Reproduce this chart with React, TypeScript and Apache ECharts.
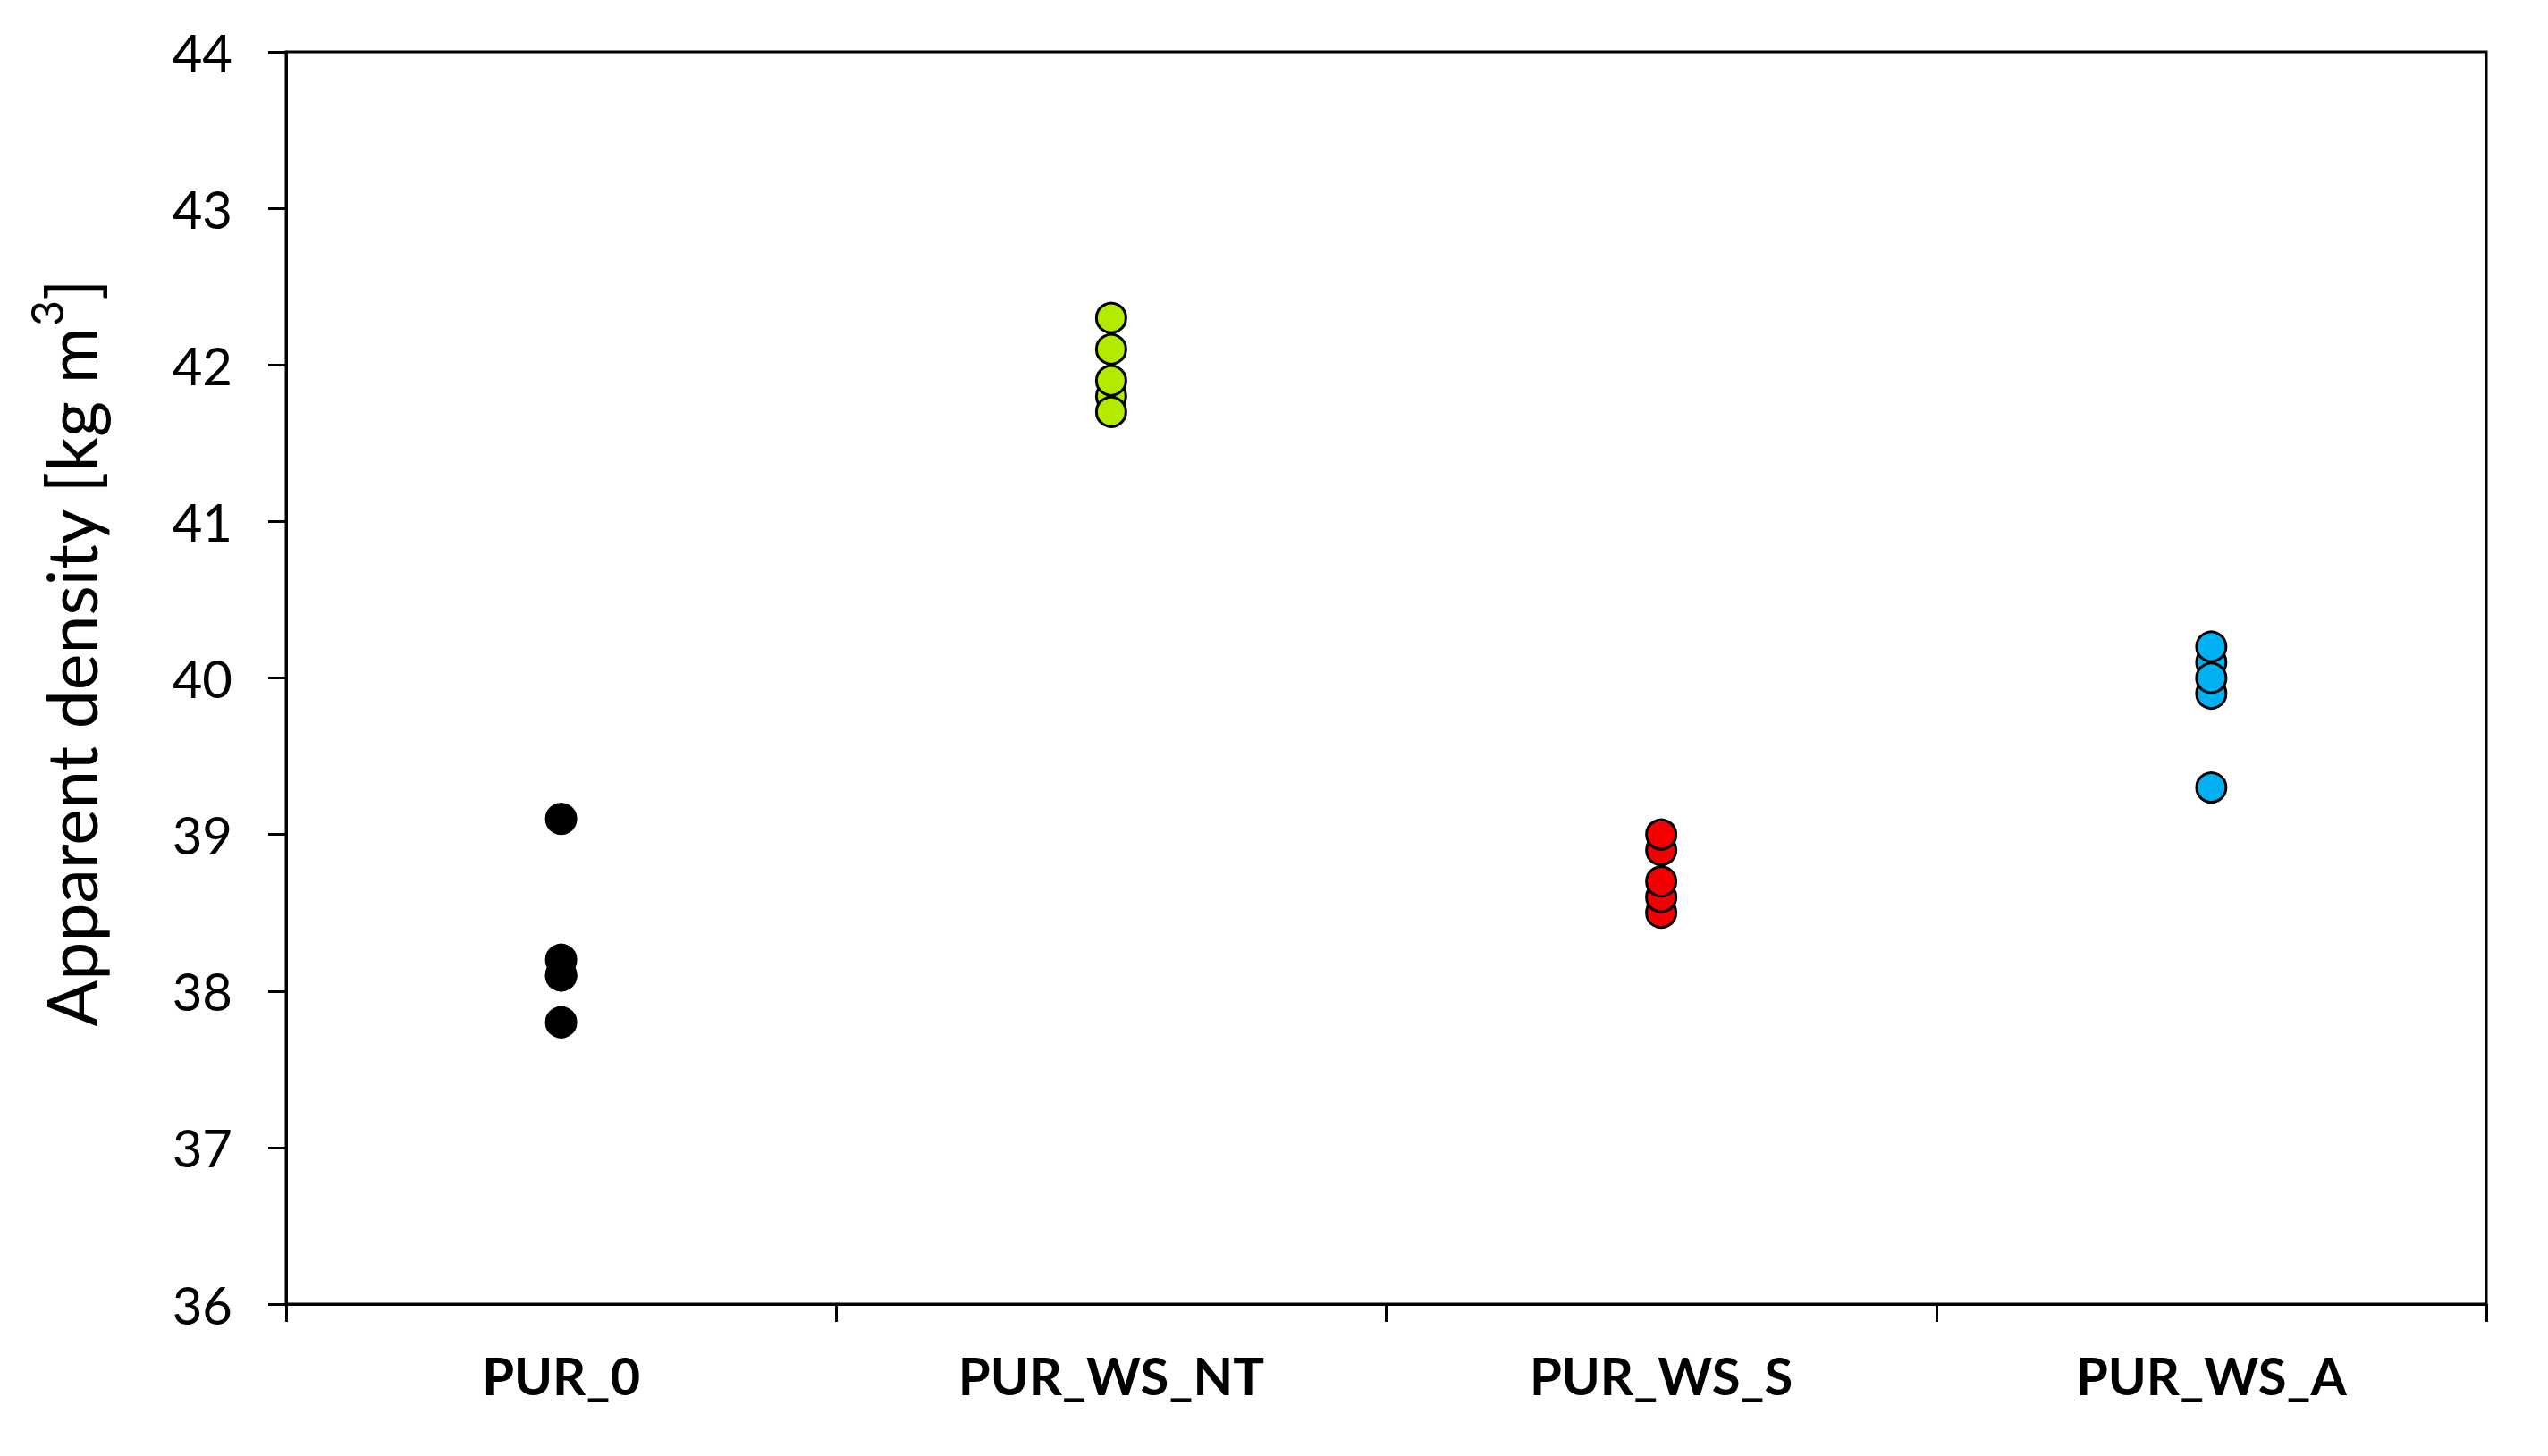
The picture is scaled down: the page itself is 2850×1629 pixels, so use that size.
import React, { useEffect, useRef } from "react";
import * as echarts from "echarts";

const categories = ["PUR_0", "PUR_WS_NT", "PUR_WS_S", "PUR_WS_A"];
const pur0Values = [39.1, 38.2, 38.1, 38.1, 37.8];
const purWsNtValues = [41.8, 41.7, 41.9, 42.1, 42.3];
const purWsSValues = [38.5, 38.6, 38.7, 38.9, 39.0];
const purWsAValues = [40.1, 39.3, 39.9, 40.0, 40.2];
const seriesValues = [pur0Values, purWsNtValues, purWsSValues, purWsAValues];
const seriesColors = ["#000000", "#B3EB00", "#F50000", "#00B0F0"];
const yMin = 36;
const yMax = 44;
const yInterval = 1;

const FONT = "Lato, 'Liberation Sans', sans-serif";

export default function App() {
  const ref = useRef<HTMLDivElement>(null);
  useEffect(() => {
    if (!ref.current) return;
    const chart = echarts.init(ref.current, null, { renderer: "svg" });
    const option: any = {
      animation: false,
      backgroundColor: "#ffffff",
      grid: {
        left: 320,
        right: 69,
        top: 58,
        bottom: 170,
        show: true,
        borderColor: "#000",
        borderWidth: 3,
        backgroundColor: "transparent",
      },
      xAxis: {
        type: "category",
        data: categories,
        boundaryGap: true,
        axisLine: { show: true, lineStyle: { color: "#000", width: 3 } },
        axisTick: { show: true, inside: false, length: 20, lineStyle: { color: "#000", width: 3 } },
        axisLabel: {
          color: "#000",
          fontFamily: FONT,
          fontWeight: "bold",
          fontSize: 58,
          margin: 50,
        },
        splitLine: { show: false },
      },
      yAxis: {
        type: "value",
        min: yMin,
        max: yMax,
        interval: yInterval,
        axisLine: { show: true, lineStyle: { color: "#000", width: 3 } },
        axisTick: { show: true, inside: false, length: 20, lineStyle: { color: "#000", width: 3 } },
        axisLabel: {
          color: "#000",
          fontFamily: FONT,
          fontSize: 58,
          margin: 60,
        },
        splitLine: { show: false },
      },
      graphic: [
        {
          type: "text",
          x: 72,
          y: 731,
          rotation: Math.PI / 2,
          style: {
            text: "{a|Apparent density [kg m}{s|3}{a|]}",
            align: "center",
            verticalAlign: "middle",
            fill: "#000",
            rich: {
              a: { fontFamily: FONT, fontSize: 77, fill: "#000", lineHeight: 90, verticalAlign: "bottom" },
              s: { fontFamily: FONT, fontSize: 50, fill: "#000", lineHeight: 90, verticalAlign: "top" },
            },
          },
        },
      ],
      series: seriesValues.map((vals, ci) => ({
        type: "scatter",
        name: categories[ci],
        symbol: "circle",
        symbolSize: 33,
        itemStyle: { color: seriesColors[ci], borderColor: "#000", borderWidth: 3, opacity: 1 },
        data: vals.map((v) => [ci, v]),
        z: 3,
      })),
    };
    chart.setOption(option);
    return () => chart.dispose();
  }, []);
  return (
    <div
      ref={ref}
      style={{ position: "fixed", left: 0, top: 0, width: 2850, height: 1629, background: "#fff" }}
    />
  );
}
